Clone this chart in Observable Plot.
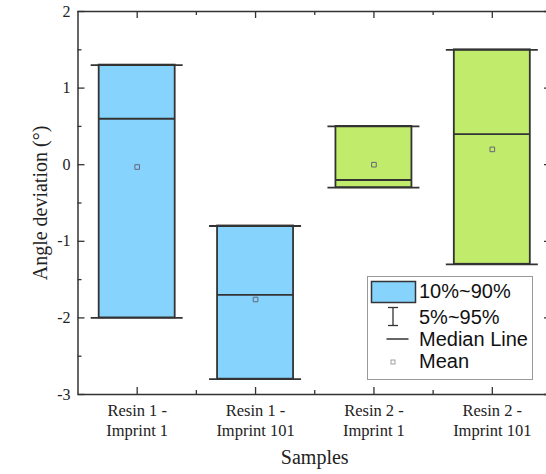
<!DOCTYPE html>
<html>
<head>
<meta charset="utf-8">
<script src="https://cdn.jsdelivr.net/npm/d3@7"></script>
<script src="https://cdn.jsdelivr.net/npm/@observablehq/plot@0.6"></script>
<style>
  html, body { margin: 0; padding: 0; background: #fff; }
  #chart { position: relative; width: 546px; height: 474px; overflow: hidden; }
</style>
</head>
<body>
<div id="chart"></div>
<script>
// ---- data ----
const categories = ["Resin 1 -\nImprint 1", "Resin 1 -\nImprint 101", "Resin 2 -\nImprint 1", "Resin 2 -\nImprint 101"];
const p10 = [-2.0, -2.8, -0.3, -1.3];
const p90 = [1.3, -0.8, 0.5, 1.5];
const p5 = [-2.0, -2.8, -0.3, -1.3];
const p95 = [1.3, -0.8, 0.5, 1.5];
const medians = [0.6, -1.7, -0.2, 0.4];
const means = [-0.03, -1.76, 0.0, 0.2];
const groupColors = ["#86D4FE", "#86D4FE", "#C0EB6B", "#C0EB6B"];
const yMajorTicks = [-3, -2, -1, 0, 1, 2];
const yMinorTicks = [-2.5, -1.5, -0.5, 0.5, 1.5];
const legendLabels = ["10%~90%", "5%~95%", "Median Line", "Mean"];
const xTitle = "Samples";
const yTitle = "Angle deviation (°)";

const data = categories.map((label, i) => ({
  pos: i + 1, label, p10: p10[i], p90: p90[i], p5: p5[i], p95: p95[i],
  median: medians[i], mean: means[i], fill: groupColors[i]
}));
const xMinorTicks = categories.slice(1).map((_, i) => i + 1.5);
const xMajorTicks = categories.map((_, i) => i + 1);

// ---- layout ----
const W = 546, H = 474;
const xDomain = [0.5, categories.length + 0.5];
const xRange = [77.5, 551];
const yDomain = [-3, 2];
const yRange = [394, 11];
const kx = (xRange[1] - xRange[0]) / (xDomain[1] - xDomain[0]); // px per x unit
const ky = (yRange[0] - yRange[1]) / (yDomain[1] - yDomain[0]); // px per y unit
const boxHalf = 38 / kx, capHalf = 46 / kx;
const majorX = 7 / kx, minorX = 4 / kx, majorY = 7 / ky, minorY = 4 / ky;
const ink = "#333";
const serif = "Liberation Serif, Times New Roman, serif";
const sans = "Liberation Sans, Arial, sans-serif";

const plot = Plot.plot({
  width: W, height: H,
  marginLeft: 77, marginRight: 0, marginTop: 11, marginBottom: 80,
  x: {type: "linear", domain: xDomain, range: xRange, axis: null},
  y: {type: "linear", domain: yDomain, range: yRange, axis: null},
  style: {background: "#fff"},
  marks: [
    // whiskers (5%~95%)
    Plot.ruleX(data, {x: "pos", y1: "p5", y2: "p95", stroke: ink, strokeWidth: 1.5}),
    // boxes (10%~90%)
    Plot.rect(data, {x1: d => d.pos - boxHalf, x2: d => d.pos + boxHalf, y1: "p10", y2: "p90",
      fill: "fill", stroke: ink, strokeWidth: 1.8}),
    // whisker caps
    Plot.ruleY(data, {y: "p95", x1: d => d.pos - capHalf, x2: d => d.pos + capHalf, stroke: ink, strokeWidth: 1.8}),
    Plot.ruleY(data, {y: "p5", x1: d => d.pos - capHalf, x2: d => d.pos + capHalf, stroke: ink, strokeWidth: 1.8}),
    // median line
    Plot.ruleY(data, {y: "median", x1: d => d.pos - boxHalf, x2: d => d.pos + boxHalf, stroke: ink, strokeWidth: 1.8}),
    // mean
    Plot.dot(data, {x: "pos", y: "mean", symbol: "square", r: 2.6, stroke: "#667", strokeWidth: 1, fill: "none"}),

    // frame
    Plot.ruleX([xDomain[0], xDomain[1]], {x: d => d, y1: yDomain[0], y2: yDomain[1], stroke: ink, strokeWidth: 1.5}),
    Plot.ruleY([yDomain[0], yDomain[1]], {y: d => d, x1: xDomain[0], x2: xDomain[1], stroke: ink, strokeWidth: 1.5}),
    // y ticks (inward, left and right)
    Plot.ruleY(yMajorTicks, {y: d => d, x1: xDomain[0], x2: xDomain[0] + majorX, stroke: ink, strokeWidth: 1.3}),
    Plot.ruleY(yMinorTicks, {y: d => d, x1: xDomain[0], x2: xDomain[0] + minorX, stroke: ink, strokeWidth: 1.3}),
    Plot.ruleY(yMajorTicks, {y: d => d, x1: xDomain[1] - majorX, x2: xDomain[1], stroke: ink, strokeWidth: 1.3}),
    Plot.ruleY(yMinorTicks, {y: d => d, x1: xDomain[1] - minorX, x2: xDomain[1], stroke: ink, strokeWidth: 1.3}),
    // x ticks (inward, bottom and top)
    Plot.ruleX(xMajorTicks, {x: d => d, y1: yDomain[0], y2: yDomain[0] + majorY, stroke: ink, strokeWidth: 1.3}),
    Plot.ruleX(xMinorTicks, {x: d => d, y1: yDomain[0], y2: yDomain[0] + minorY, stroke: ink, strokeWidth: 1.3}),
    Plot.ruleX(xMajorTicks, {x: d => d, y1: yDomain[1] - majorY, y2: yDomain[1], stroke: ink, strokeWidth: 1.3}),
    Plot.ruleX(xMinorTicks, {x: d => d, y1: yDomain[1] - minorY, y2: yDomain[1], stroke: ink, strokeWidth: 1.3}),
    // y tick labels
    Plot.text(yMajorTicks, {x: xDomain[0], y: d => d, text: d => String(d), dx: -7.5, textAnchor: "end",
      fontFamily: serif, fontSize: 16, fill: "#222"}),
    // x tick labels
    Plot.text(data, {x: "pos", y: yDomain[0], text: "label", dy: 8, lineAnchor: "top", lineHeight: 1.18,
      fontFamily: serif, fontSize: 16.5, fill: "#222"}),
    // axis titles
    Plot.text([xTitle], {x: (xDomain[0] + xDomain[1]) / 2, y: yDomain[0], text: d => d, dy: 63,
      fontFamily: serif, fontSize: 20, fill: "#222"}),
    Plot.text([yTitle], {x: xDomain[0], y: (yDomain[0] + yDomain[1]) / 2, text: d => d, dx: -37.5, rotate: -90,
      fontFamily: serif, fontSize: 20, fill: "#222"})
  ]
});
document.getElementById("chart").appendChild(plot);

// ---- legend ----
const svg = d3.select(plot);
const lg = svg.append("g").attr("transform", "translate(367.5,276.5)").attr("text-anchor", "start");
lg.append("rect").attr("width", 165).attr("height", 103).attr("fill", "#fff").attr("stroke", "#999").attr("stroke-width", 1);
const rowY = [14.5, 40.5, 62.5, 84.5];
// box swatch
lg.append("rect").attr("x", 4).attr("y", 5).attr("width", 44).attr("height", 21)
  .attr("fill", groupColors[0]).attr("stroke", ink).attr("stroke-width", 1.5);
// whisker symbol
const wx = 25.5;
lg.append("line").attr("x1", wx).attr("x2", wx).attr("y1", 31).attr("y2", 49).attr("stroke", ink).attr("stroke-width", 1.3);
lg.append("line").attr("x1", wx - 5).attr("x2", wx + 5).attr("y1", 31).attr("y2", 31).attr("stroke", ink).attr("stroke-width", 1.3);
lg.append("line").attr("x1", wx - 5).attr("x2", wx + 5).attr("y1", 49).attr("y2", 49).attr("stroke", ink).attr("stroke-width", 1.3);
// median line symbol
lg.append("line").attr("x1", 19).attr("x2", 41).attr("y1", rowY[2]).attr("y2", rowY[2]).attr("stroke", ink).attr("stroke-width", 1.5);
// mean symbol
lg.append("rect").attr("x", wx - 2).attr("y", rowY[3] - 1).attr("width", 4).attr("height", 4)
  .attr("fill", "none").attr("stroke", "#888").attr("stroke-width", 0.8);
lg.selectAll("text.lab").data(legendLabels).join("text").attr("class", "lab")
  .attr("x", 51.5).attr("y", (d, i) => rowY[i]).attr("dy", "0.36em").attr("text-anchor", "start")
  .attr("font-family", sans).attr("font-size", 20).attr("fill", "#111").text(d => d);
</script>
</body>
</html>
